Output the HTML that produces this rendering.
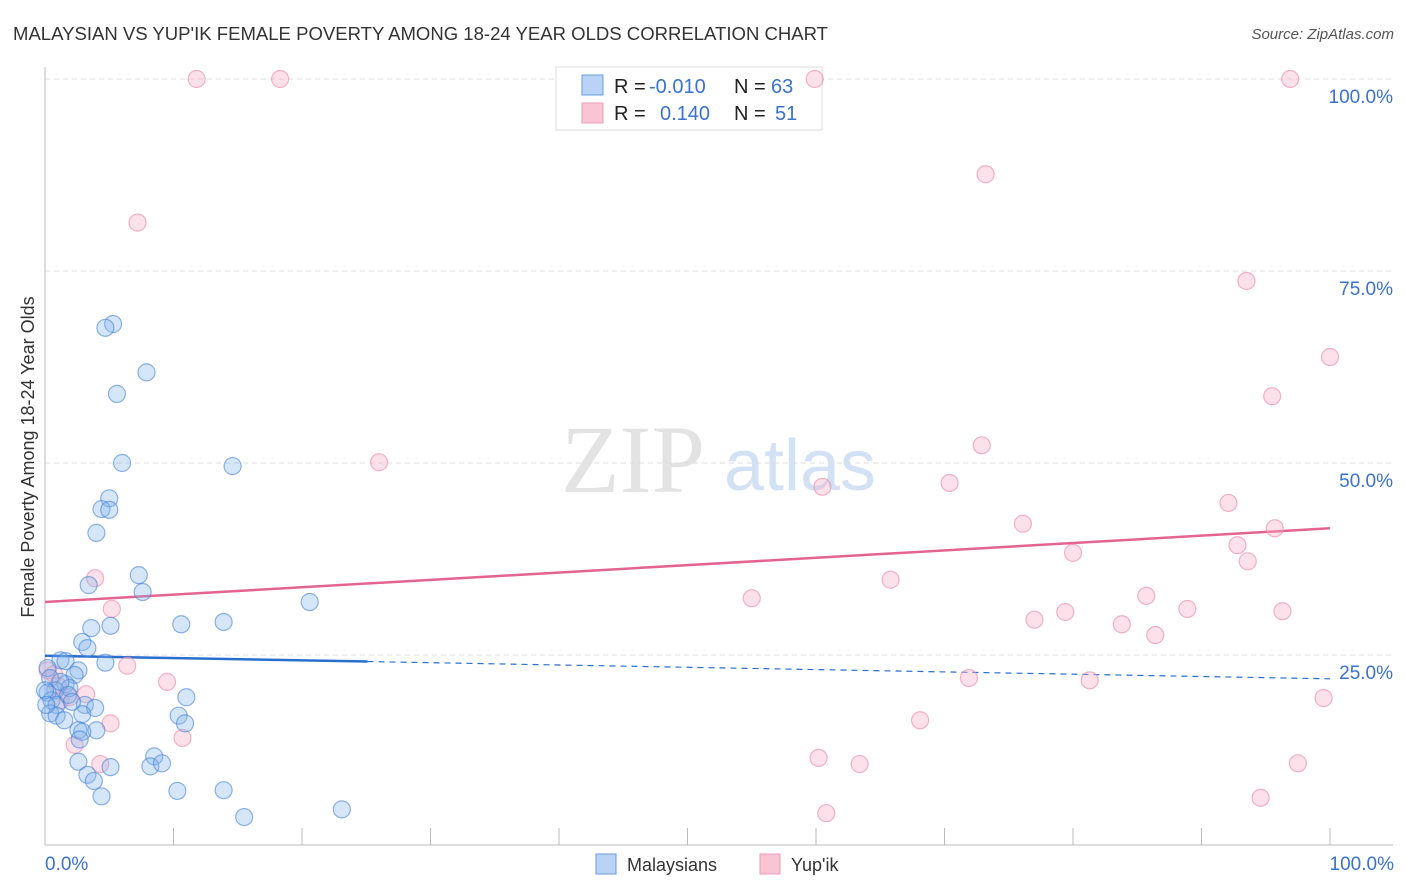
<!DOCTYPE html>
<html><head><meta charset="utf-8"><style>
body{margin:0;background:#fff;font-family:"Liberation Sans",sans-serif;}
svg{display:block}
</style></head><body>
<svg id="chart" width="1406" height="892" xmlns="http://www.w3.org/2000/svg">
<text x="13" y="40" font-size="18" fill="#333" textLength="815" lengthAdjust="spacingAndGlyphs">MALAYSIAN VS YUP'IK FEMALE POVERTY AMONG 18-24 YEAR OLDS CORRELATION CHART</text>
<text x="1394" y="39" font-size="15" fill="#555" font-style="italic" text-anchor="end">Source: ZipAtlas.com</text>
<g>
<text x="633" y="492" font-size="96" font-family="Liberation Serif,serif" fill="#ddd" text-anchor="middle" opacity="0.8">ZIP</text>
<text x="800" y="490" font-size="72" fill="#c8daf2" text-anchor="middle" opacity="0.8">atlas</text>
</g>
<g id="grid"></g>
<g id="axes"></g>
<g>
<rect x="556" y="67" width="266" height="63" fill="#fff" stroke="#ddd"/>
<rect x="582" y="75" width="21" height="20" fill="#b8d3f5" stroke="#6b9ee0"/>
<rect x="582" y="103" width="21" height="20" fill="#f9c4d4" stroke="#ee9cb6"/>
<text y="93" font-size="20" fill="#222"><tspan x="614">R =</tspan><tspan x="649" fill="#3a72d0">-0.010</tspan><tspan x="734">N =</tspan><tspan x="771" fill="#3a72d0">63</tspan></text>
<text y="120" font-size="20" fill="#222"><tspan x="614">R =</tspan><tspan x="660" fill="#3a72d0">0.140</tspan><tspan x="734">N =</tspan><tspan x="775" fill="#3a72d0">51</tspan></text>
</g>
<g id="lines"></g>
<g id="pts"></g>
<text x="34" y="457" font-size="18" fill="#333" text-anchor="middle" transform="rotate(-90 34 457)">Female Poverty Among 18-24 Year Olds</text>
<text x="45" y="870" font-size="19" fill="#3a72d0">0.0%</text>
<text x="1394" y="870" font-size="19" fill="#3a72d0" text-anchor="end">100.0%</text>
<g>
<rect x="596" y="854" width="20" height="20" fill="#b8d3f5" stroke="#6b9ee0"/>
<text x="627" y="871" font-size="18" fill="#333">Malaysians</text>
<rect x="760" y="854" width="20" height="20" fill="#f9c4d4" stroke="#ee9cb6"/>
<text x="791" y="871" font-size="18" fill="#333">Yup'ik</text>
</g>
</svg>
<script>
const yTicks=[100,75,50,25];
const yTickLabels=["100.0%","75.0%","50.0%","25.0%"];
const blueX=[5.3,4.7,7.9,5.6,6.0,14.6,5.0,4.4,5.0,4.0,7.3,3.4,7.6,20.6,3.6,5.1,10.6,13.9,2.9,3.3,1.2,4.7,1.6,0.2,2.6,2.3,0.4,1.6,1.9,0.8,0.2,0.5,3.1,3.9,0.9,0.4,0.9,1.5,2.9,10.4,11.0,10.9,2.6,4.0,2.9,8.5,2.6,8.2,9.1,3.3,5.1,3.8,4.4,10.3,13.9,15.5,23.1,1.2,1.8,2.1,0,0.1,2.7];
const blueY=[68.1,67.6,61.8,59.0,50.0,49.6,45.4,44.0,43.9,40.9,35.4,34.1,33.2,31.9,28.5,28.8,29.0,29.3,26.7,25.9,24.3,24.0,24.2,23.3,23.0,22.4,22.0,21.2,20.7,20.4,20.1,19.1,18.5,18.1,18.5,17.4,17.1,16.5,17.3,17.1,19.5,16.1,15.2,15.2,15.0,11.8,11.1,10.5,10.9,9.4,10.4,8.6,6.6,7.3,7.4,3.9,4.9,21.5,19.8,18.9,20.4,18.5,14.0];
const pinkX=[11.8,18.3,59.9,96.9,73.2,7.2,93.5,100,95.5,26.0,72.9,60.5,70.4,92.1,76.1,95.7,80.0,92.8,93.6,3.9,65.8,5.2,55.0,85.7,77.0,88.9,79.4,96.3,83.8,86.4,6.4,0.7,9.5,71.9,81.3,3.2,1.2,99.5,5.1,68.1,10.7,2.3,60.2,63.4,4.3,97.5,60.8,94.6,0.2,1.0,1.9];
const pinkY=[100,100,100,100,87.6,81.3,73.7,63.8,58.7,50.1,52.3,46.9,47.4,44.8,42.1,41.5,38.3,39.3,37.2,35.0,34.8,31.0,32.4,32.7,29.6,31.0,30.6,30.7,29.0,27.6,23.6,22.5,21.5,22.0,21.7,19.9,19.1,19.4,16.1,16.5,14.2,13.3,11.6,10.8,10.8,10.9,4.4,6.4,23.0,21.0,19.5];
const blueTrend=[24.9,21.9];
const pinkTrend=[31.9,41.5];
const NS="http://www.w3.org/2000/svg";
const sx=v=>45+v*12.85, sy=v=>847-v*7.68;
function mk(tag,attrs,parent){const e=document.createElementNS(NS,tag);for(const k in attrs)e.setAttribute(k,attrs[k]);document.getElementById(parent).appendChild(e);return e;}
yTicks.forEach((t,i)=>{
 const l=mk('line',{x1:45,x2:1393,y1:sy(t),y2:sy(t),stroke:'#ddd','stroke-dasharray':'5,4'},'grid');
 
 
 const tx=mk('text',{x:1393,y:sy(t)+24,'font-size':19,fill:'#3a72d0','text-anchor':'end'},'grid');
 tx.textContent=yTickLabels[i];
 
 
});
const ya=mk('line',{x1:45,x2:45,y1:67,y2:845,stroke:'#bbb'},'axes');


const xa=mk('line',{x1:45,x2:1393,y1:845,y2:845,stroke:'#bbb'},'axes');


for(let i=1;i<=10;i++){
 const t=mk('line',{x1:sx(i*10),x2:sx(i*10),y1:828,y2:845,stroke:'#bbb'},'axes');
 
 
}
function pts(X,Y,fill,stroke,name){
 X.forEach((x,i)=>{
  const c=mk('circle',{cx:sx(x),cy:sy(Y[i]),r:8.5,fill:fill,stroke:stroke,'stroke-width':1.2},'pts');
  
  
 });
}
pts(pinkX,pinkY,'rgba(246,168,194,0.35)','rgba(236,140,172,0.65)','yupik-point');
pts(blueX,blueY,'rgba(130,178,238,0.33)','rgba(70,130,215,0.6)','malaysian-point');
const by=x=>blueTrend[0]+(blueTrend[1]-blueTrend[0])*x/100;
const b1=mk('line',{x1:sx(0),y1:sy(by(0)),x2:sx(25.1),y2:sy(by(25.1)),stroke:'#2a6fd0','stroke-width':2.5},'lines');


const b2=mk('line',{x1:sx(25.1),y1:sy(by(25.1)),x2:sx(100),y2:sy(by(100)),stroke:'#2a6fd0','stroke-width':1.2,'stroke-dasharray':'6,5'},'lines');


const p1=mk('line',{x1:sx(0),y1:sy(pinkTrend[0]),x2:sx(100),y2:sy(pinkTrend[1]),stroke:'#e4648f','stroke-width':2.5},'lines');


</script>
</body></html>
